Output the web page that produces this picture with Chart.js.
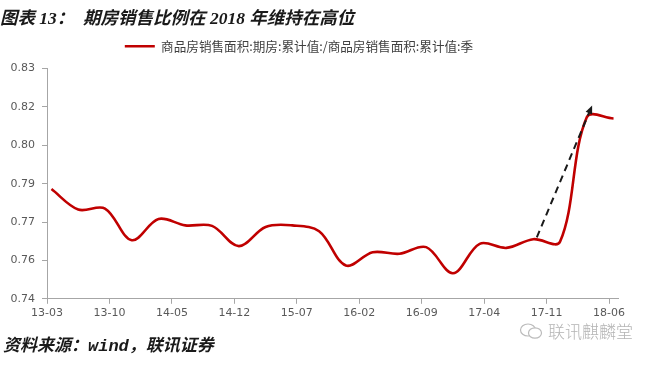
<!DOCTYPE html>
<html>
<head>
<meta charset="utf-8">
<script src="https://cdn.jsdelivr.net/npm/chart.js@4.4.1/dist/chart.umd.min.js"></script>
<style>
  body { margin: 0; background: #fff; }
  #wrap { position: relative; width: 648px; height: 365px; }
  #source {
    position: absolute; left: 3px; top: 331px;
    font: italic bold 17px "Liberation Mono", "Noto Sans CJK SC", sans-serif;
    color: #1a1a1a; white-space: nowrap;
  }
  #mark {
    position: absolute; left: 519px; top: 318px;
    font: 300 17px "Noto Sans CJK SC", sans-serif;
    color: #b4b4b4; white-space: nowrap; display: flex; align-items: center;
  }
  #mark svg { margin-right: 3px; }
</style>
</head>
<body>
<div id="wrap">
  <canvas id="ratio-chart"></canvas>
  <div id="source">资料来源：wind，联讯证券</div>
  <div id="mark">
    <svg width="26" height="18" viewBox="0 0 26 18">
      <ellipse cx="9" cy="8" rx="7.5" ry="6" fill="none" stroke="#bbb" stroke-width="1.2"/>
      <ellipse cx="16" cy="11" rx="6.5" ry="5.2" fill="#fff" stroke="#bbb" stroke-width="1.2"/>
    </svg>
    联讯麒麟堂
  </div>
</div>
<script>
// 期房销售面积占比（季度累计），数据读自原图
const quarters = ['13-03', '13-06', '13-09', '13-12', '14-03', '14-06', '14-09', '14-12',
                  '15-03', '15-06', '15-09', '15-12', '16-03', '16-06', '16-09', '16-12',
                  '17-03', '17-06', '17-09', '17-12', '18-03', '18-06'];
const ratio = [0.7829, 0.7749, 0.7753, 0.7629, 0.7712, 0.7687, 0.7685, 0.7606,
               0.7681, 0.7687, 0.7664, 0.7530, 0.7582, 0.7576, 0.7602, 0.7500,
               0.7615, 0.7599, 0.7633, 0.7623, 0.8110, 0.8105];

const xTickLabels = ['13-03', '13-10', '14-05', '14-12', '15-07', '16-02', '16-09', '17-04', '17-11', '18-06'];
const xAxisEnd = '18-07';
const yTickValues = [0.74, 0.755, 0.77, 0.785, 0.80, 0.815, 0.83];

// 箭头标注（起点 / 终点，数据坐标）
const arrowFrom = { month: '17-09', offset: 0.9, value: 0.764 };
const arrowTo = { month: '18-03', offset: 1.1, value: 0.8156 };

const seriesName = '商品房销售面积:期房:累计值:/商品房销售面积:累计值:季';
const titleText = '图表 13：  期房销售比例在 2018 年维持在高位';

function monthIndex(label) {
    const [yy, mm] = label.split('-').map(Number);
    return (yy - 13) * 12 + (mm - 3);
}

// 数据点位于月中
const points = quarters.map((q, i) => ({ x: monthIndex(q) + 0.5, y: ratio[i] }));

const arrowPlugin = {
    id: 'arrow',
    afterDatasetsDraw(chart) {
        const { ctx, scales } = chart;
        const x1 = scales.x.getPixelForValue(monthIndex(arrowFrom.month) + arrowFrom.offset);
        const y1 = scales.y.getPixelForValue(arrowFrom.value);
        const x2 = scales.x.getPixelForValue(monthIndex(arrowTo.month) + arrowTo.offset);
        const y2 = scales.y.getPixelForValue(arrowTo.value);
        const ang = Math.atan2(y2 - y1, x2 - x1);
        const head = 9;
        ctx.save();
        ctx.strokeStyle = '#1a1a1a';
        ctx.fillStyle = '#1a1a1a';
        ctx.lineWidth = 2;
        ctx.setLineDash([7, 5]);
        ctx.beginPath();
        ctx.moveTo(x1, y1);
        ctx.lineTo(x2 - Math.cos(ang) * head * 0.8, y2 - Math.sin(ang) * head * 0.8);
        ctx.stroke();
        ctx.setLineDash([]);
        ctx.beginPath();
        ctx.moveTo(x2, y2);
        ctx.lineTo(x2 - head * Math.cos(ang - 0.4), y2 - head * Math.sin(ang - 0.4));
        ctx.lineTo(x2 - head * Math.cos(ang + 0.4), y2 - head * Math.sin(ang + 0.4));
        ctx.closePath();
        ctx.fill();
        ctx.restore();
    }
};

// 图例：略向左偏，下方多留一点空
const legendTweak = {
    id: 'legendTweak',
    beforeLayout(chart) {
        const lg = chart.legend;
        if (lg && !lg._tweaked) {
            const fit = lg.fit.bind(lg);
            lg.fit = function () {
                fit();
                this.height += 6;
            };
            lg._tweaked = true;
        }
    },
    afterLayout(chart) {
        if (chart.legend) chart.legend.left -= 20;
    }
};

const axisColor = '#a6a6a6';
const tickFont = { family: '"DejaVu Sans", sans-serif', size: 11 };

new Chart(document.getElementById('ratio-chart'), {
    type: 'line',
    data: {
        datasets: [{
            label: seriesName,
            data: points,
            borderColor: '#c00000',
            backgroundColor: '#c00000',
            borderWidth: 2.6,
            pointRadius: 0,
            tension: 0.35,
            fill: false
        }]
    },
    options: {
        responsive: true,
        maintainAspectRatio: false,
        animation: false,
        layout: { padding: { left: 0, right: 30, top: 0, bottom: 42 } },
        plugins: {
            title: {
                display: true,
                text: titleText,
                align: 'start',
                color: '#1a1a1a',
                font: { family: '"Liberation Serif", "Noto Sans CJK SC", serif', size: 17.5, style: 'italic', weight: 'bold', lineHeight: 1.2 },
                padding: { top: 9, bottom: 0 }
            },
            legend: {
                display: true,
                position: 'top',
                labels: {
                    usePointStyle: true,
                    pointStyle: 'line',
                    pointStyleWidth: 30,
                    padding: 10,
                    color: '#404040',
                    font: { family: '"Noto Sans CJK SC", sans-serif', size: 12.6 }
                }
            },
            tooltip: { enabled: false }
        },
        scales: {
            x: {
                type: 'linear',
                min: 0,
                max: monthIndex(xAxisEnd),
                afterBuildTicks(scale) {
                    scale.ticks = xTickLabels.map(l => ({ value: monthIndex(l) }));
                },
                ticks: {
                    color: '#595959',
                    font: tickFont,
                    padding: 3,
                    maxRotation: 0,
                    autoSkip: false,
                    callback(value) {
                        const lbl = xTickLabels.find(l => monthIndex(l) === value);
                        return lbl || '';
                    }
                },
                grid: { drawOnChartArea: false, drawTicks: true, tickLength: 5, color: axisColor },
                border: { color: axisColor }
            },
            y: {
                min: yTickValues[0],
                max: yTickValues[yTickValues.length - 1],
                afterBuildTicks(scale) {
                    scale.ticks = yTickValues.map(v => ({ value: v }));
                },
                afterFit(scale) {
                    scale.width = 47;
                },
                ticks: {
                    color: '#595959',
                    font: tickFont,
                    padding: 7,
                    callback(value) {
                        return (value + 1e-9).toFixed(2);
                    }
                },
                grid: { drawOnChartArea: false, drawTicks: true, tickLength: 5, color: axisColor },
                border: { color: axisColor }
            }
        }
    },
    plugins: [arrowPlugin, legendTweak]
});
</script>
</body>
</html>
